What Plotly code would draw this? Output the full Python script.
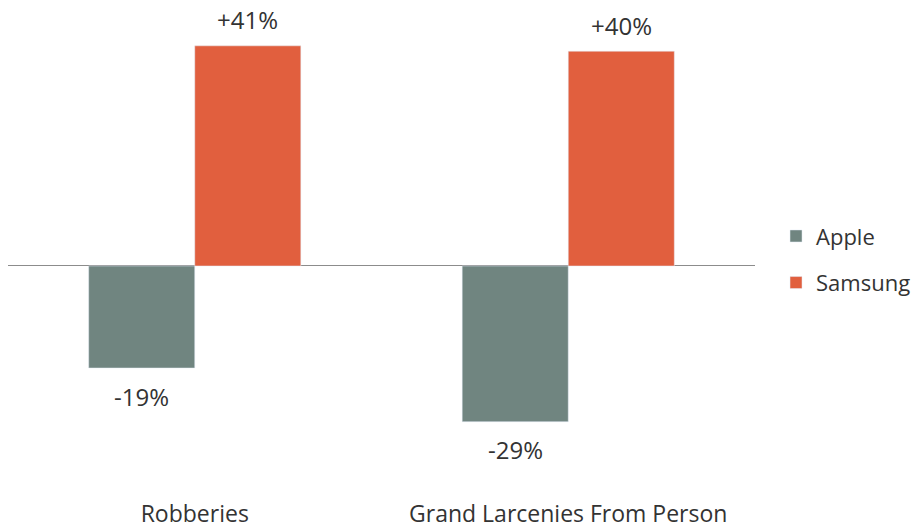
import plotly.graph_objects as go

categories = ["Robberies", "Grand Larcenies From Person"]
apple = [-19, -29]
samsung = [41, 40]
apple_labels = ["-19%", "-29%"]
samsung_labels = ["+41%", "+40%"]

APPLE_COLOR = "#708580"
SAMSUNG_COLOR = "#E15F3E"
TEXT_COLOR = "#333333"
FONT = "Open Sans"
FS = 23

fig = go.Figure()
fig.add_trace(go.Bar(name="Apple", x=categories, y=apple, marker_color=APPLE_COLOR,
                     legendgroup="a", hoverinfo="skip"))
fig.add_trace(go.Bar(name="Samsung", x=categories, y=samsung, marker_color=SAMSUNG_COLOR,
                     legendgroup="s", hoverinfo="skip"))

annotations = []
for c, v, t in zip(categories, apple, apple_labels):
    annotations.append(dict(x=c, y=v, text=t, xref="x", yref="y", showarrow=False,
                            xshift=-53, yshift=-28, yanchor="middle",
                            font=dict(family=FONT, size=24, color=TEXT_COLOR)))
for c, v, t in zip(categories, samsung, samsung_labels):
    annotations.append(dict(x=c, y=v, text=t, xref="x", yref="y", showarrow=False,
                            xshift=53, yshift=26, yanchor="middle",
                            font=dict(family=FONT, size=24, color=TEXT_COLOR)))

fig.update_layout(
    width=920, height=531,
    margin=dict(l=8, r=165, t=10, b=50, autoexpand=False),
    paper_bgcolor="white", plot_bgcolor="white",
    barmode="group", bargap=0.432, bargroupgap=0,
    font=dict(family=FONT, size=FS, color=TEXT_COLOR),
    annotations=annotations,
    legend=dict(xref="container", yref="container", x=0.8435, xanchor="left",
                y=0.511, yanchor="middle",
                font=dict(family=FONT, size=22, color=TEXT_COLOR),
                tracegroupgap=15, itemwidth=30),
    showlegend=True,
)
fig.update_xaxes(showgrid=False, showline=False, ticks="", ticklabelstandoff=17,
                 automargin=False,
                 tickfont=dict(family=FONT, size=FS, color=TEXT_COLOR))
fig.update_yaxes(range=[-40.04, 47.67], showgrid=False, showticklabels=False,
                 automargin=False,
                 zeroline=True, zerolinecolor="#8c8c8c", zerolinewidth=1.2, showline=False)

fig.write_html("out.html")
